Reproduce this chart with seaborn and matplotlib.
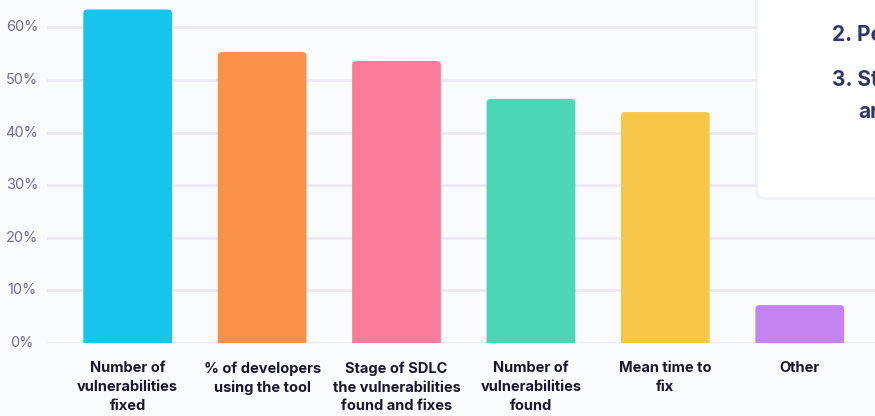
import matplotlib
matplotlib.use("Agg")
import matplotlib.pyplot as plt
from matplotlib.patches import FancyBboxPatch
import pandas as pd
import seaborn as sns

# Chart data
categories = ["Number of\nvulnerabilities\nfixed",
              "% of developers\nusing the tool",
              "Stage of SDLC\nthe vulnerabilities\nfound and fixes",
              "Number of\nvulnerabilities\nfound",
              "Mean time to\nfix",
              "Other"]
values = [63.4, 55.3, 53.6, 46.4, 43.9, 7.2]
colors = ["#17c5ec", "#fa9148", "#fb7b9a", "#4bd6b5", "#f8c749", "#c583f2"]
yticks = [0, 10, 20, 30, 40, 50, 60]
ytick_labels = ["0%", "10%", "20%", "30%", "40%", "50%", "60%"]

df = pd.DataFrame({"metric": categories, "share": values})

sns.set_style("white")
plt.rcParams["font.family"] = ["Inter", "DejaVu Sans"]

bg = "#fafbfe"
fig = plt.figure(figsize=(8.75, 4.16), dpi=100, facecolor=bg)
ax = fig.add_axes([47 / 875, 73 / 416, 1 - 47 / 875, 1 - 73 / 416])
ax.set_facecolor(bg)

sns.barplot(data=df, x="metric", y="share", hue="metric", palette=colors,
            legend=False, width=0.66, saturation=1, ax=ax, zorder=3)

# rounded top corners
ymax = 65.2
ax.set_xlim(-0.6, 5.56)
ax.set_ylim(0, ymax)
ppx = 875 * (1 - 47 / 875) / (5.56 + 0.6)
ppy = 416 * (1 - 73 / 416) / ymax
aspect = ppx / ppy
for p in list(ax.patches):
    x, w, h, c = p.get_x(), p.get_width(), p.get_height(), p.get_facecolor()
    p.remove()
    ax.add_patch(FancyBboxPatch((x, -2), w, h + 2,
                                boxstyle="round,pad=0,rounding_size=0.03",
                                mutation_aspect=aspect, facecolor=c,
                                edgecolor="none", zorder=3, clip_on=True))

ax.set_yticks(yticks)
ax.set_yticklabels(ytick_labels)
ax.yaxis.grid(True, color="#ece8f5", linewidth=2, zorder=0)
ax.xaxis.grid(False)
for s in ax.spines.values():
    s.set_visible(False)
ax.tick_params(axis="y", length=0, pad=18, labelsize=10.5, labelcolor="#6e6a9a")
for t in ax.get_yticklabels():
    t.set_horizontalalignment("center")
    t.set_verticalalignment("center")
ax.tick_params(axis="x", length=0, pad=13, labelsize=10.5, labelcolor="#17172f")
for t in ax.get_xticklabels():
    t.set_fontweight("bold")
    t.set_linespacing(1.45)
    t.set_verticalalignment("top")
ax.set_xlabel("")
ax.set_ylabel("")

# overlay card in the top-right corner
shadow = FancyBboxPatch((755 / 875, 1 - 200 / 416), 0.2, 0.6,
                        boxstyle="round,pad=0,rounding_size=0.014",
                        transform=fig.transFigure, facecolor="#eef0f5",
                        edgecolor="none", zorder=9, alpha=0.7)
card = FancyBboxPatch((758 / 875, 1 - 197 / 416), 0.2, 0.6,
                      boxstyle="round,pad=0,rounding_size=0.012",
                      transform=fig.transFigure, facecolor="white",
                      edgecolor="none", zorder=10)
fig.patches.extend([shadow, card])
card_text = "#2d3670"
fig.text(832 / 875, 1 - 35 / 416, "2. Pe", fontsize=15, fontweight="bold",
         color=card_text, va="center", ha="left", zorder=11)
fig.text(832 / 875, 1 - 80 / 416, "3. St", fontsize=15, fontweight="bold",
         color=card_text, va="center", ha="left", zorder=11)
fig.text(858 / 875, 1 - 112 / 416, "ar", fontsize=15, fontweight="bold",
         color=card_text, va="center", ha="left", zorder=11)

fig.savefig("out.png", dpi=100, facecolor=bg)
